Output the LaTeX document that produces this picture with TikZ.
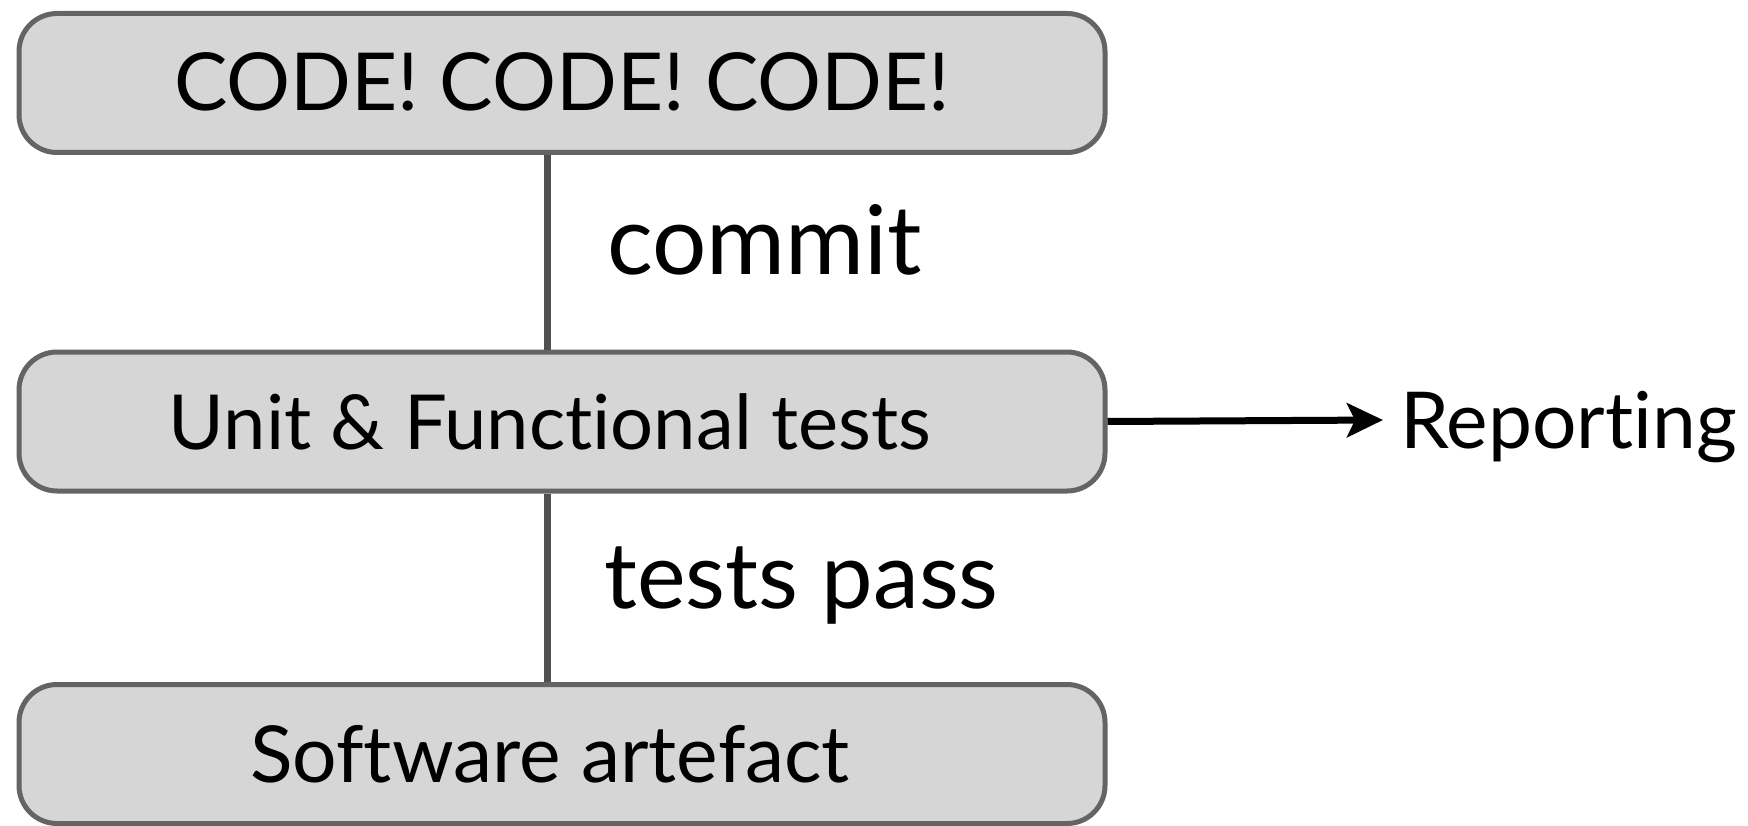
\documentclass[tikz,border=0pt]{standalone}
\usepackage{fontspec}
\setmainfont{Lato}[Ligatures=NoCommon]
\usetikzlibrary{arrows.meta}
\definecolor{boxfill}{HTML}{D6D6D6}
\definecolor{boxline}{HTML}{646464}
\definecolor{conn}{HTML}{505050}
\begin{document}
\begin{tikzpicture}[x=1pt,y=-1pt,
  stagebox/.style={draw=boxline, fill=boxfill, line width=5pt, rounded corners=38pt,
    minimum width=1086pt, minimum height=139pt, inner sep=0pt,
    text height=56pt, text depth=0pt},
  lbl/.style={anchor=base west, inner sep=0pt},
  stem/.style={draw=conn, line width=7pt},
  outarrow/.style={draw=black, line width=7pt, -{Stealth[length=36pt,width=34pt,inset=8pt]}}]
\useasboundingbox (0,0) rectangle (1748,826);
\node[stagebox, font=\fontsize{80}{90}\selectfont] (code) at (562,83) {CODE! CODE! CODE!};
\node[stagebox, font=\fontsize{75.9}{90}\selectfont] (unit) at (562,421.5) {Unit \& Functional tests\hspace*{24pt}};
\node[stagebox, font=\fontsize{78.6}{90}\selectfont] (art) at (562,754) {Software artefact\hspace*{24pt}};
\coordinate (lx) at (547,0);
\draw[stem] (code.south -| lx) -- (unit.north -| lx);
\draw[stem] (unit.south -| lx) -- (art.north -| lx);
\node[lbl, font=\fontsize{96}{110}\selectfont] (commit) at (607,275) {commit};
\node[lbl, font=\fontsize{92}{110}\selectfont] (pass) at (604,608) {tests pass};
\node[lbl, font=\fontsize{78.5}{90}\selectfont] (rep) at (1400,448) {Reporting};
\coordinate (tip) at (1383,420);
\draw[outarrow] (unit.east) -- (tip);
\end{tikzpicture}
\end{document}
